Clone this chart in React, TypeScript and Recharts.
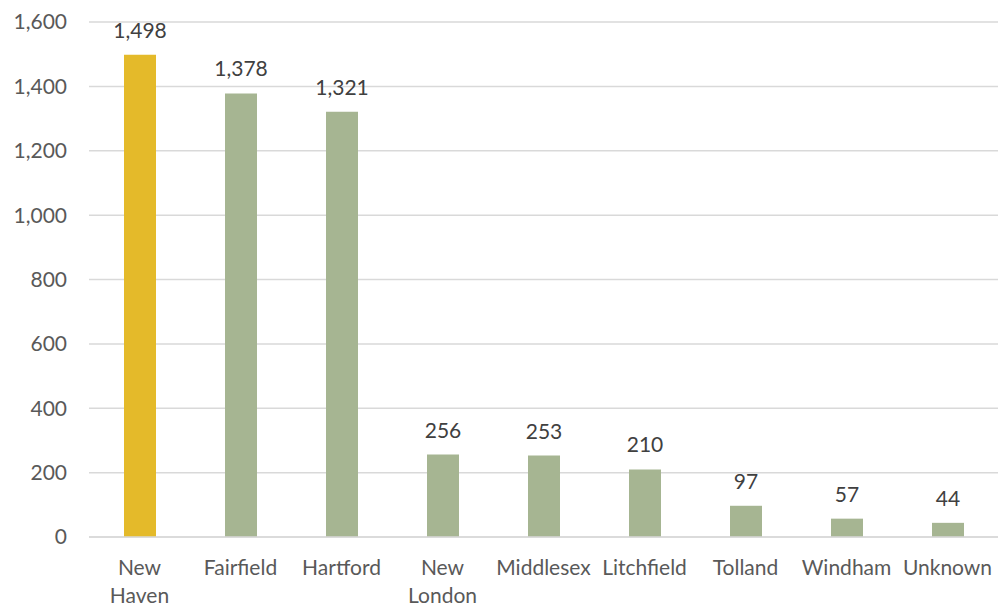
import React from "react";
import { BarChart, Bar, XAxis, YAxis, CartesianGrid, Cell, LabelList } from "recharts";

const counties = ["New Haven", "Fairfield", "Hartford", "New London", "Middlesex", "Litchfield", "Tolland", "Windham", "Unknown"];
const cases = [1498, 1378, 1321, 256, 253, 210, 97, 57, 44];
const yTicks = [0, 200, 400, 600, 800, 1000, 1200, 1400, 1600];
const highlightCounty = "New Haven";

const GOLD = "#E4BA2A";
const GREEN = "#A6B592";
const FONT = "Lato, 'Open Sans', sans-serif";
const FS = 21;

const data = counties.map((c, i) => ({ county: c, value: cases[i] }));

const fmt = (v: number) => v.toLocaleString("en-US");

const XTick = (props: any) => {
  const { x, y, payload } = props;
  const lines = String(payload.value).split(" ");
  return (
    <g>
      <text x={x} y={y} textAnchor="middle" fill="#595959" fontSize={FS} fontFamily={FONT}>
        {lines.map((l: string, i: number) => (
          <tspan key={i} x={x} dy={i === 0 ? 38 : 28}>
            {l}
          </tspan>
        ))}
      </text>
    </g>
  );
};

export default function App() {
  return (
    <div style={{ position: "absolute", left: 0, top: 0, width: 999, height: 607, background: "#fff" }}>
      <BarChart
        width={999}
        height={607}
        data={data}
        margin={{ top: 22, right: 1, bottom: 0, left: 0 }}
        barSize={32}
      >
        <CartesianGrid vertical={false} stroke="#D9D9D9" strokeWidth={1.5} />
        <XAxis
          dataKey="county"
          axisLine={{ stroke: "#D9D9D9", strokeWidth: 1.5 }}
          tickLine={false}
          tickSize={0}
          tickMargin={0}
          interval={0}
          tick={<XTick />}
          height={70}
        />
        <YAxis
          width={89}
          domain={[0, 1600]}
          ticks={yTicks}
          axisLine={false}
          tickLine={false}
          tickSize={0}
          tickMargin={22}
          tickFormatter={fmt}
          tick={{ fill: "#595959", fontSize: FS, fontFamily: FONT }}
        />
        <Bar dataKey="value" isAnimationActive={false}>
          {data.map((d) => (
            <Cell key={d.county} fill={d.county === highlightCounty ? GOLD : GREEN} />
          ))}
          <LabelList
            dataKey="value"
            position="top"
            offset={17}
            formatter={(v: any) => fmt(Number(v))}
            style={{ fill: "#404040", fontSize: FS, fontFamily: FONT }}
          />
        </Bar>
      </BarChart>
    </div>
  );
}
